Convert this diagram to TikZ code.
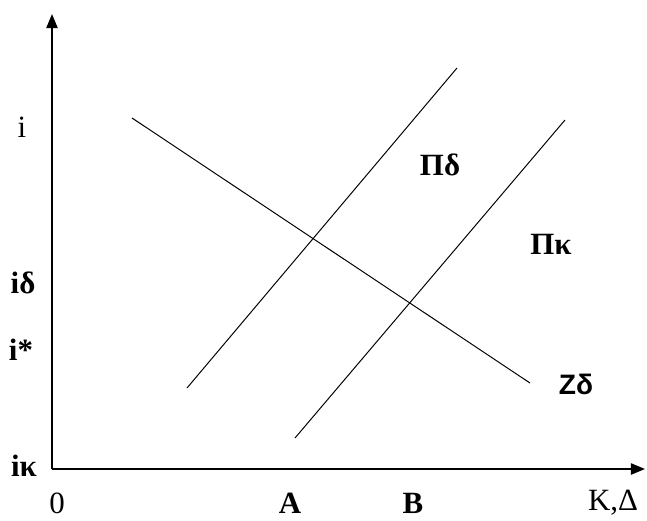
\documentclass[tikz,border=0pt]{standalone}
\usepackage{fontspec}
\setmainfont{Liberation Serif}
\newfontfamily\lblsans{Liberation Sans}
\usetikzlibrary{arrows.meta}

\tikzset{
  axis/.style={line width=1.1pt, -{Triangle[length=10pt, width=8pt]}},
  curve/.style={line width=0.7pt},
  lbl/.style={font=\fontsize{22}{26}\selectfont\bfseries, inner sep=0pt},
  tick/.style={font=\fontsize{22}{26}\selectfont, inner sep=0pt}
}

\begin{document}
\begin{tikzpicture}[x=0.025cm, y=-0.025cm]
  \useasboundingbox (0,0) rectangle (647,521);

  % axes
  \coordinate (O) at (52,469);
  \coordinate (ytop) at (52,14);
  \coordinate (xend) at (645,469);
  \draw[axis] (O) -- (ytop);
  \draw[axis] (O) -- (xend);

  % curves
  \coordinate (zs) at (132,118);
  \coordinate (ze) at (530,383);
  \coordinate (ds) at (187,388);
  \coordinate (de) at (457,68);
  \coordinate (ks) at (295,438);
  \coordinate (ke) at (565,120);
  \draw[curve] (zs) -- (ze);
  \draw[curve] (ds) -- (de);
  \draw[curve] (ks) -- (ke);

  % labels on the axes
  \node[tick] (li) at (22,127) {i};
  \node[lbl] (lid) at (23,283) {iδ};
  \node[lbl] (lis) at (21,350) {i*};
  \node[lbl] (lik) at (24,466) {iκ};
  \node[tick] (l0) at (57,503) {0};
  \node[lbl] (lA) at (290,503) {A};
  \node[lbl] (lB) at (413,503) {B};
  \node[tick] (lKD) at (613,503) {K,Δ};

  % labels of the curves
  \node[lbl] (lPd) at (440,165) {Πδ};
  \node[lbl] (lPk) at (551,244) {Πκ};
  \node[lbl, font=\lblsans\fontsize{20}{24}\selectfont\bfseries] (lZd) at (576,384) {Zδ};
\end{tikzpicture}
\end{document}
